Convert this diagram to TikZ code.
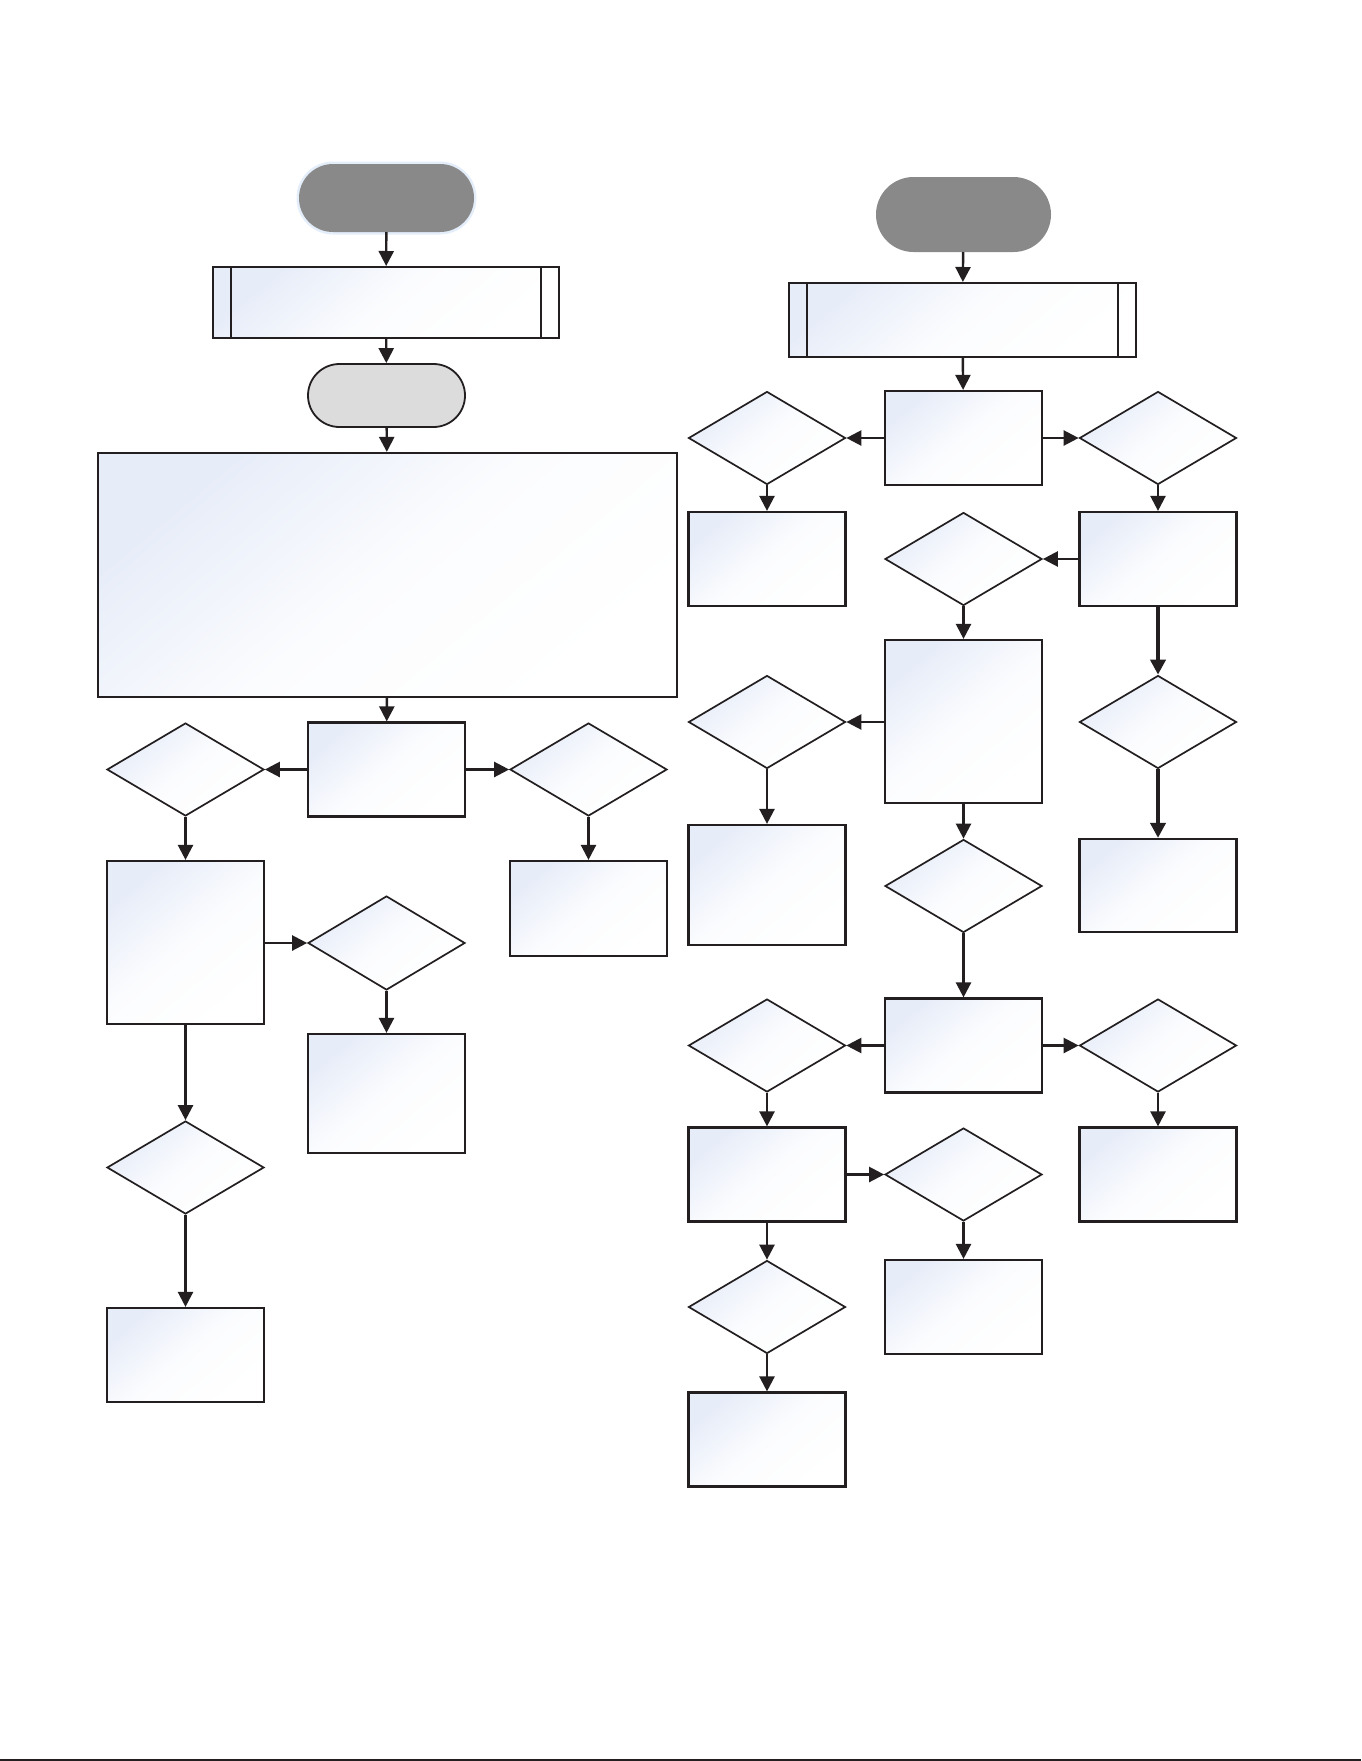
\documentclass[tikz,border=0pt]{standalone}
\usetikzlibrary{shapes.geometric,shapes.misc,arrows.meta}
\definecolor{termdark}{HTML}{8A8989}
\definecolor{termlight}{HTML}{DCDCDC}
\definecolor{boxblue}{HTML}{E6ECF8}
\definecolor{glowc}{HTML}{E3EEFA}
\definecolor{linec}{HTML}{231F20}
\tikzset{
  x=1pt,y=-1pt,
  gfill/.style={shade,top color=boxblue,bottom color=white,middle color=white!85!boxblue,shading angle=40},
  procbox/.style={rectangle,draw=linec,line width=2.2pt,gfill,minimum width=157pt,minimum height=94pt,inner sep=0pt},
  decbox/.style={diamond,draw=linec,line width=1.7pt,gfill,minimum width=157pt,minimum height=93pt,inner sep=0pt},
  termd/.style={rounded rectangle,fill=termdark,draw=none,minimum width=175pt,inner sep=0pt},
  terml/.style={rounded rectangle,fill=termlight,draw=linec,line width=1.8pt,minimum width=157pt,minimum height=63pt,inner sep=0pt},
  predef/.style={rectangle,draw=linec,line width=2pt,gfill,inner sep=0pt},
  conn/.style={draw=linec,line width=2.4pt,-{Triangle[length=15pt,width=15pt]}},
  thickconn/.style={conn,line width=3.8pt},
}
\begin{document}
\begin{tikzpicture}
\useasboundingbox (0,0) rectangle (1361,1761);
\fill[white] (0,0) rectangle (1361,1761);
\draw[linec,line width=1.5pt] (0,1760) -- (1361,1760);

% ---------- left column ----------
\node[termd,minimum height=68pt,preaction={draw=glowc,line width=5pt}] (t1) at (386.5,198) {};
\node[predef,minimum width=346pt,minimum height=71pt] (pp1) at (386,302.5) {};
\draw[linec,line width=1.6pt] ([xshift=19pt]pp1.north west) -- ([xshift=19pt]pp1.south west)
      ([xshift=-19pt]pp1.north east) -- ([xshift=-19pt]pp1.south east);
\node[terml] (t2) at (386.5,395.5) {};
\node[procbox,minimum width=579pt,minimum height=244pt] (big) at (387.5,575) {};
\node[procbox] (rA) at (386.5,769.5) {};
\node[decbox] (dL1) at (185.5,769.5) {};
\node[decbox] (dR1) at (588.5,769.5) {};
\node[procbox,minimum height=163pt] (rL1) at (185.5,942.5) {};
\node[procbox,minimum height=95pt] (rR1) at (588.5,908.5) {};
\node[decbox,minimum height=94pt] (dM) at (386.5,943) {};
\node[procbox,minimum height=119pt] (rM) at (386.5,1093.5) {};
\node[decbox] (dL2) at (185.5,1167.5) {};
\node[procbox] (rLb) at (185.5,1355) {};

\draw[conn] (t1) -- (pp1);
\draw[conn] (pp1) -- (t2);
\draw[conn] (t2) -- (big);
\draw[conn] (big) -- (rA);
\draw[conn] (rA) -- (dL1);
\draw[conn] (rA) -- (dR1);
\draw[conn] (dL1) -- (rL1);
\draw[conn] (dR1) -- (rR1);
\draw[conn] (rL1.east |- dM) -- (dM.west);
\draw[conn] (dM) -- (rM);
\draw[conn] (rL1) -- (dL2);
\draw[conn] (dL2) -- (rLb);

% ---------- right column ----------
\node[termd,minimum height=75pt] (t3) at (963.5,214.5) {};
\node[predef,minimum width=347pt,minimum height=74pt] (pp2) at (962.5,320) {};
\draw[linec,line width=1.6pt] ([xshift=19pt]pp2.north west) -- ([xshift=19pt]pp2.south west)
      ([xshift=-19pt]pp2.north east) -- ([xshift=-19pt]pp2.south east);
\node[procbox] (rB) at (963.5,438) {};
\node[decbox] (dRL1) at (767,438) {};
\node[decbox] (dRR1) at (1158,438) {};
\node[procbox] (rRL1) at (767,559) {};
\node[procbox] (rRR1) at (1158,559) {};
\node[decbox] (dC2) at (963.5,559) {};
\node[procbox,minimum height=163pt] (rT) at (963.5,721.5) {};
\node[decbox] (dRL2) at (767,722) {};
\node[procbox,minimum height=120pt] (rRL2) at (767,885) {};
\node[decbox] (dRR2) at (1158,722) {};
\node[procbox,minimum height=93pt] (rRR2) at (1158,885.5) {};
\node[decbox] (dC3) at (963.5,886) {};
\node[procbox] (rC) at (963.5,1045.5) {};
\node[decbox] (dRL3) at (767,1045.5) {};
\node[decbox] (dRR3) at (1158,1045.5) {};
\node[procbox] (rRL3) at (767,1174.5) {};
\node[procbox] (rRR3) at (1158,1174.5) {};
\node[decbox] (dM4) at (963.5,1174.5) {};
\node[procbox] (rM4) at (963.5,1307) {};
\node[decbox] (dRL4) at (767,1307) {};
\node[procbox] (rRLb) at (767,1439.5) {};

\draw[conn] (t3) -- (pp2);
\draw[conn] (pp2) -- (rB);
\draw[conn] (rB) -- (dRL1);
\draw[conn] (rB) -- (dRR1);
\draw[conn] (dRL1) -- (rRL1);
\draw[conn] (dRR1) -- (rRR1);
\draw[conn] (rRR1) -- (dC2);
\draw[conn] (dC2) -- (rT);
\draw[thickconn] (rRR1) -- (dRR2);
\draw[conn] (rT.west |- dRL2) -- (dRL2.east);
\draw[conn] (dRL2) -- (rRL2);
\draw[thickconn] (dRR2) -- (rRR2);
\draw[conn] (rT) -- (dC3);
\draw[conn] (dC3) -- (rC);
\draw[conn] (rC) -- (dRL3);
\draw[conn] (rC) -- (dRR3);
\draw[conn] (dRL3) -- (rRL3);
\draw[conn] (dRR3) -- (rRR3);
\draw[conn] (rRL3) -- (dM4);
\draw[conn] (dM4) -- (rM4);
\draw[conn] (rRL3) -- (dRL4);
\draw[conn] (dRL4) -- (rRLb);
\end{tikzpicture}
\end{document}
